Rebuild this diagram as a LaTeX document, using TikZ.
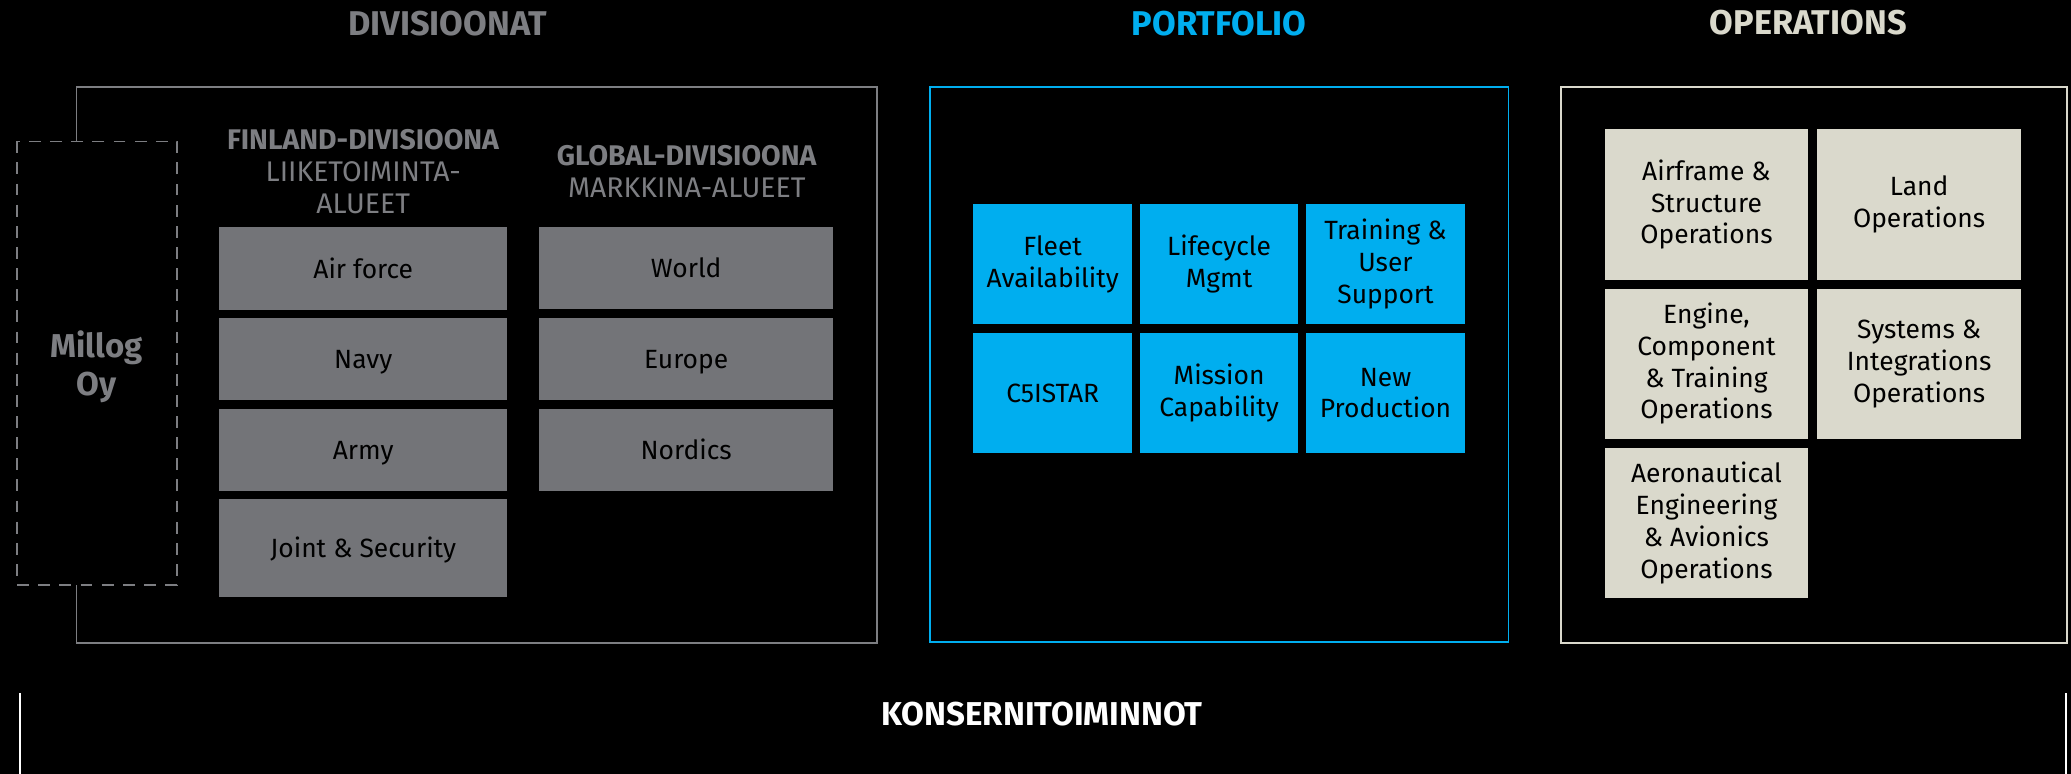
\documentclass[tikz,border=0pt]{standalone}
\usepackage{fontspec}
\setmainfont{Fira Sans}
\definecolor{tilegray}{HTML}{737478}
\definecolor{txtgray}{HTML}{7D7E82}
\definecolor{mblue}{HTML}{00AEEF}
\definecolor{beige}{HTML}{DAD9CC}
\begin{document}
\begin{tikzpicture}[x=1pt,y=-1pt,
  title/.style={font=\fontsize{26}{30}\selectfont\bfseries, anchor=center},
  hdr/.style={font=\fontsize{21.5}{24.5}\selectfont, text=txtgray, align=center, anchor=center},
  tilebase/.style={inner sep=0pt, align=center, text=black, font=\fontsize{20}{24}\selectfont, anchor=center},
  oneline/.style={text height=14pt, text depth=0pt},
  graytile/.style={tilebase, oneline, fill=tilegray, minimum height=62pt},
  bluetile/.style={tilebase, fill=mblue, minimum width=120pt, minimum height=91pt},
  beigetile/.style={tilebase, fill=beige, minimum width=154pt, minimum height=114pt},
  frame/.style={line width=1.3pt},
]
\fill[black] (0,0) rectangle (1568,586);
\useasboundingbox (0,0) rectangle (1568,586);

% titles
\node[title, text=txtgray] (tdiv) at (339,18) {DIVISIOONAT};
\node[title, text=mblue] (tport) at (923,18) {PORTFOLIO};
\node[title, text=beige] (tops) at (1369,17) {OPERATIONS};

% divisions frame
\draw[frame, color=txtgray] (58,107) -- (58,66) -- (664,66) -- (664,487) -- (58,487) -- (58,443);
\draw[line width=1.2pt, color=txtgray, dash pattern=on 9pt off 7pt] (13,107) rectangle (134,443);
\node[font=\fontsize{25}{29}\selectfont\bfseries, text=txtgray, align=center] (millog) at (73,277.5) {Millog\\Oy};

% headers
\node[hdr] (hfin) at (275,130) {\textbf{FINLAND-DIVISIOONA}\\LIIKETOIMINTA-\\ALUEET};
\node[hdr] (hglob) at (520,130) {\textbf{GLOBAL-DIVISIOONA}\\MARKKINA-ALUEET};

% gray tiles
\node[graytile, minimum width=218pt, minimum height=63pt] (airforce) at (275,203.5) {Air force};
\node[graytile, minimum width=218pt] (navy) at (275,272) {Navy};
\node[graytile, minimum width=218pt] (army) at (275,341) {Army};
\node[graytile, minimum width=218pt, minimum height=74pt] (joint) at (275,415) {Joint \& Security};
\node[graytile, minimum width=223pt] (world) at (519.5,203) {World};
\node[graytile, minimum width=223pt] (europe) at (519.5,272) {Europe};
\node[graytile, minimum width=223pt] (nordics) at (519.5,341) {Nordics};

% portfolio
\draw[frame, color=mblue] (704,66) rectangle (1142,486);
\node[bluetile] (fleet) at (797,200) {Fleet\\Availability};
\node[bluetile] (life) at (923,200) {Lifecycle\\Mgmt};
\node[bluetile] (train) at (1049,200) {Training \&\\User\\Support};
\node[bluetile, oneline] (c5) at (797,297.5) {C5ISTAR};
\node[bluetile] (mission) at (923,297.5) {Mission\\Capability};
\node[bluetile] (newprod) at (1049,297.5) {New\\Production};

% operations
\draw[frame, color=beige] (1182,66) rectangle (1565,487);
\node[beigetile] (airframe) at (1292,155) {Airframe \&\\Structure\\Operations};
\node[beigetile] (land) at (1453,155) {Land\\Operations};
\node[beigetile] (engine) at (1292,275.5) {Engine,\\Component\\\& Training\\Operations};
\node[beigetile] (systems) at (1453,275.5) {Systems \&\\Integrations\\Operations};
\node[beigetile] (aero) at (1292,396) {Aeronautical\\Engineering\\\& Avionics\\Operations};

% group functions
\coordinate (bl1) at (15,525);
\coordinate (bl2) at (15,586);
\coordinate (br1) at (1564,525);
\coordinate (br2) at (1564,586);
\draw[white, line width=1.2pt] (bl1) -- (bl2);
\draw[white, line width=1.2pt] (br1) -- (br2);
\node[font=\fontsize{25}{29}\selectfont\bfseries, text=white] (konserni) at (789,541) {KONSERNITOIMINNOT};
\end{tikzpicture}
\end{document}
